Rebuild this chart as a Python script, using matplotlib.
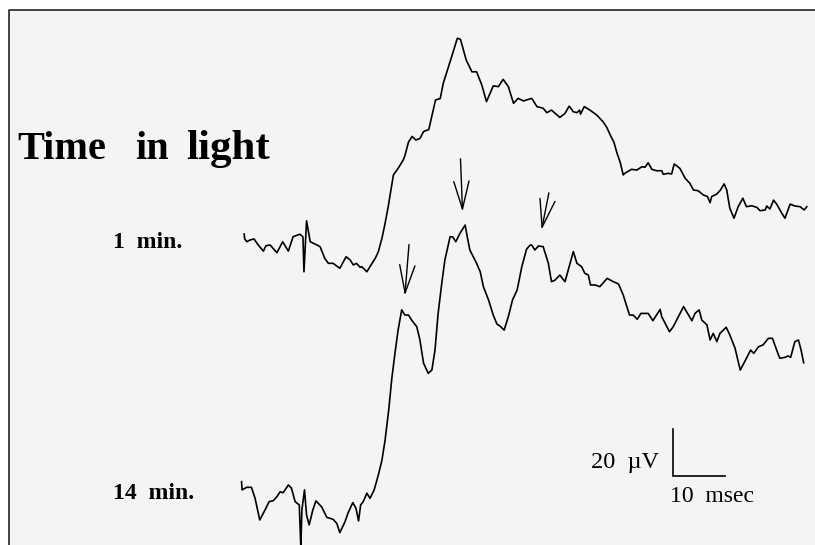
import matplotlib
matplotlib.use("Agg")
import matplotlib.pyplot as plt
from matplotlib.patches import Rectangle
from matplotlib.lines import Line2D

plt.rcParams['font.family'] = ['Liberation Serif', 'DejaVu Serif']

# ERG traces: time in msec (0 = flash artifact), amplitude in microvolts
t_1min = [-11.7, -11.6, -11.2, -10.6, -9.8, -9.0, -8.0, -7.5, -6.7, -5.4, -4.3, -3.2, -2.3, -1.0,
          -0.4, -0.2, 0.3, 0.6, 1.0, 2.3, 2.9, 3.8, 4.5, 5.4, 6.7, 7.9, 8.7, 9.3, 9.9, 10.6,
          10.9, 11.9, 12.5, 13.5, 14.1, 14.8, 15.4, 16.0, 17.0, 17.9, 18.9, 19.2, 19.9, 20.6,
          21.3, 22.1, 22.8, 23.8, 25.1, 26.0, 26.6, 27.4, 28.2, 29.3, 29.9, 31.0, 32.1, 33.0,
          34.0, 34.9, 36.2, 37.2, 38.1, 39.1, 40.1, 41.0, 42.0, 43.6, 44.6, 45.8, 46.5, 47.4,
          49.0, 50.0, 50.8, 51.6, 52.3, 52.8, 53.0, 53.7, 54.8, 56.1, 57.3, 58.0, 58.7, 59.4,
          60.0, 60.6, 61.2, 61.5, 62.8, 63.8, 64.8, 65.4, 66.0, 66.7, 67.6, 68.6, 68.9, 69.9,
          70.5, 71.0, 72.1, 73.1, 74.0, 74.7, 75.6, 76.6, 77.4, 77.9, 78.2, 79.2, 79.9, 80.6,
          81.1, 81.7, 82.5, 83.3, 84.2, 84.9, 85.9, 86.9, 87.5, 88.5, 88.8, 89.4, 90.1, 90.7,
          91.7, 92.3, 93.3, 94.2, 95.2, 96.0, 96.5]
v_1min = [4.7, 2.6, 1.4, 2.1, 2.6, 0.0, -2.6, -0.3, 0.0, -3.3, 1.4, -2.6, 3.5, 4.6,
          3.5, -11.4, 10.3, 6.4, 1.4, 0.0, -0.7, -5.7, -7.8, -7.8, -9.9, -5.0, -6.4, -8.5, -7.8, -9.5,
          -9.2, -11.4, -9.2, -5.7, -2.9, 2.9, 9.2, 16.3, 29.8, 32.6, 36.2, 37.9, 43.8, 46.2,
          44.7, 45.3, 48.3, 49.1, 61.7, 62.3, 68.9, 74.5, 80.1, 88.0, 87.5, 78.7, 73.7, 73.7,
          68.1, 61.0, 67.7, 67.4, 70.5, 67.4, 60.3, 62.4, 61.3, 62.4, 58.9, 58.2, 56.3, 57.4,
          54.3, 56.0, 59.1, 56.7, 56.3, 57.4, 55.7, 58.9, 57.4, 55.3, 52.5, 50.2, 46.8, 43.8,
          39.1, 35.3, 29.8, 30.5, 32.2, 31.9, 33.3, 33.1, 35.0, 32.2, 31.6, 31.6, 30.1, 30.5,
          30.2, 34.5, 32.6, 28.4, 26.3, 23.4, 23.1, 21.3, 20.6, 18.0, 20.6, 21.7, 23.4, 26.0,
          23.4, 15.6, 11.4, 16.3, 19.9, 16.3, 16.7, 16.0, 14.6, 14.9, 16.6, 15.3, 19.1, 17.4,
          13.5, 11.4, 17.4, 16.6, 16.3, 14.9, 16.3]

t_14min = [-12.2, -12.1, -11.2, -10.3, -9.6, -8.7, -7.7, -6.9, -6.1, -5.4, -4.8, -4.2, -3.2, -2.6,
           -1.9, -1.1, -0.8, -0.6, -0.1, 0.3, 0.8, 1.5, 2.1, 3.2, 4.2, 5.4, 6.1, 6.7, 7.7, 8.3,
           9.2, 9.8, 10.3, 10.7, 11.2, 11.9, 12.5, 13.3, 14.1, 14.8, 15.4, 16.1, 16.7, 17.3,
           17.9, 18.6, 19.2, 19.9, 20.5, 21.5, 22.1, 22.8, 23.7, 24.4, 25.0, 25.6, 26.3, 26.9,
           27.9, 28.4, 29.0, 29.8, 30.8, 31.2, 31.7, 33.0, 33.7, 34.3, 35.3, 36.2, 36.9, 37.5,
           38.3, 39.1, 39.9, 40.8, 41.7, 42.6, 43.3, 43.6, 44.2, 44.9, 45.8, 46.8, 47.4, 48.1,
           49.0, 50.0, 50.8, 51.6, 52.3, 53.2, 53.8, 54.5, 54.9, 55.8, 56.7, 58.1, 59.3, 60.3,
           61.2, 61.9, 62.4, 63.1, 63.9, 64.6, 66.0, 66.9, 67.6, 68.3, 68.6, 69.2, 70.1, 70.8,
           71.8, 72.8, 73.5, 74.4, 75.0, 75.8, 76.3, 77.3, 77.9, 78.5, 79.2, 79.8, 81.0, 81.7,
           82.7, 83.7, 84.4, 85.7, 86.3, 87.2, 88.1, 89.1, 89.9, 90.7, 91.3, 92.3, 92.9, 93.4,
           94.2, 94.9, 95.4, 95.9]
v_14min = [7.8, 4.3, 5.4, 5.4, 0.7, -8.5, -4.3, -0.7, -0.3, 1.4, 3.5, 3.1, 6.4, 5.0,
           -0.7, -2.1, -20.4, -4.3, 4.3, -6.4, -10.6, -4.3, -0.4, -2.9, -7.4, -8.2, -9.9, -13.9, -9.2, -5.4,
           -1.1, -3.5, -8.9, -2.1, -0.7, 2.9, 0.7, 4.3, 10.6, 17.0, 25.5, 38.3, 51.8, 62.4,
           72.3, 80.9, 78.7, 78.7, 76.6, 73.7, 68.1, 58.2, 53.9, 55.3, 63.8, 79.4, 92.2, 102.1,
           112.0, 112.0, 109.9, 113.5, 117.0, 112.0, 106.4, 100.7, 97.1, 90.8, 85.1, 78.7, 74.9, 74.0,
           72.3, 78.0, 85.1, 89.4, 99.3, 106.7, 108.5, 108.5, 106.4, 108.1, 107.8, 100.7, 92.9, 93.6,
           95.7, 92.9, 99.3, 105.7, 100.7, 99.3, 96.5, 95.7, 91.5, 91.5, 90.8, 94.3, 92.9, 91.9,
           87.2, 82.3, 78.7, 78.7, 76.9, 79.4, 79.4, 76.3, 78.7, 81.1, 78.0, 75.4, 71.6, 73.7,
           78.0, 82.3, 79.7, 76.3, 79.4, 80.9, 76.6, 74.5, 68.1, 70.9, 67.4, 70.9, 73.5, 70.2,
           64.6, 55.3, 58.2, 63.8, 62.4, 65.2, 66.0, 68.8, 68.8, 63.8, 60.3, 60.7, 61.3, 60.7,
           67.4, 68.1, 63.8, 58.4]

# arrows marking the oscillatory potentials on the 14 min trace
arrow_t = [19.2, 30.3, 45.5]
arrow_v = [86.0, 121.7, 114.0]
arrow_dt = [0.8, -0.4, 1.4]
arrow_dv = [21.7, 22.5, 15.7]

# page calibration (pixels per unit) and layout
PX_PER_MS = 5.2
PX_PER_UV = 2.35
W, H = 815, 545
x_zero = 305          # flash artifact, pixels from left
y_zero = 245          # 1 min baseline, pixels from top
offset_14 = -255 / PX_PER_UV

fig = plt.figure(figsize=(W / 100, H / 100), dpi=100)
fig.patch.set_facecolor('white')
ax = fig.add_axes([0, 0, 1, 1])
ax.set_xlim(-x_zero / PX_PER_MS, (W - x_zero) / PX_PER_MS)
ax.set_ylim(-(H - y_zero) / PX_PER_UV, y_zero / PX_PER_UV)
ax.axis('off')


def px(x, y):
    return x / W, 1 - y / H


# scanned page with its frame
ax.add_patch(Rectangle(px(9, H), 1, 1 - 10 / H, transform=ax.transAxes,
                       facecolor='#f4f4f4', edgecolor='none', zorder=0))
ax.add_line(Line2D([9 / W, 9 / W, 1], [0, 1 - 10 / H, 1 - 10 / H], transform=ax.transAxes,
                   color='#222222', lw=1.2, zorder=1))

ax.plot(t_1min, v_1min, color='black', lw=1.2, solid_joinstyle='round', zorder=3)
ax.plot(t_14min, [v + offset_14 for v in v_14min], color='black', lw=1.2,
        solid_joinstyle='round', zorder=3)

for t, v, dt, dv in zip(arrow_t, arrow_v, arrow_dt, arrow_dv):
    ax.annotate('', xy=(t, v + offset_14 + 1.0), xytext=(t + dt, v + dv + offset_14 + 1.0),
                arrowprops=dict(arrowstyle='->,head_length=2.0,head_width=0.55',
                                mutation_scale=10, lw=1.0, color='black',
                                shrinkA=0, shrinkB=0))

# scale bar: 10 msec x 20 microvolts
bar_t = 70.8
bar_v = -98.3
ax.plot([bar_t, bar_t, bar_t + 10], [bar_v + 20, bar_v, bar_v], color='black', lw=1.2,
        solid_joinstyle='miter', zorder=3)

# texts
for word, x, size in zip(['Time', 'in', 'light'], [17, 135, 186], [29, 29, 31]):
    ax.text(*px(x, 159), word, transform=ax.transAxes, fontsize=size, fontweight='bold',
            ha='left', va='baseline')
ax.text(*px(113, 248), '1  min.', transform=ax.transAxes, fontsize=17, fontweight='bold',
        ha='left', va='baseline')
ax.text(*px(113, 499), '14  min.', transform=ax.transAxes, fontsize=17, fontweight='bold',
        ha='left', va='baseline')
ax.text(*px(591, 468), '20  \u00b5V', transform=ax.transAxes, fontsize=17.5,
        ha='left', va='baseline')
ax.text(*px(670, 502), '10  msec', transform=ax.transAxes, fontsize=17,
        ha='left', va='baseline')

fig.savefig('out.png', dpi=100, facecolor=fig.get_facecolor())
